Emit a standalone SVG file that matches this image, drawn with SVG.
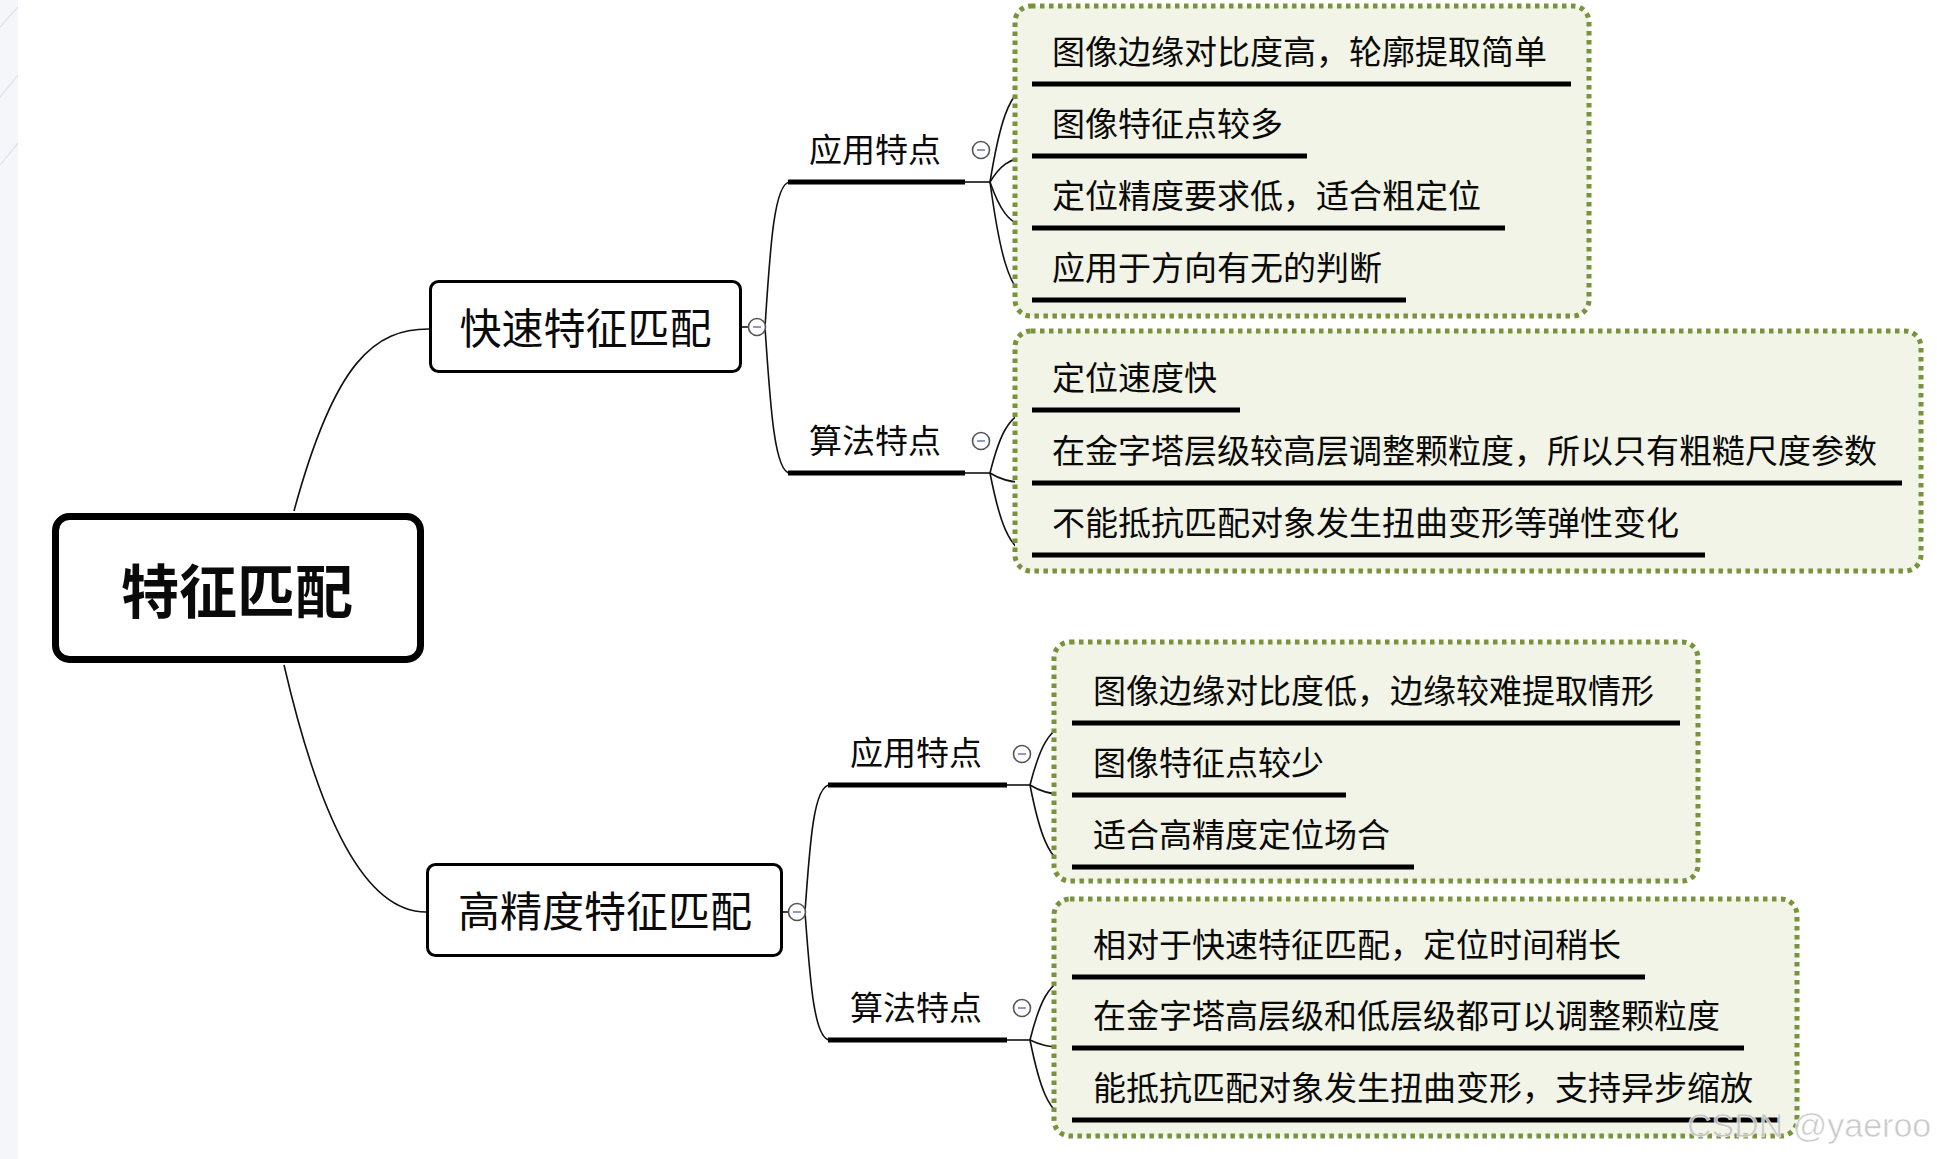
<svg xmlns="http://www.w3.org/2000/svg" width="1937" height="1159" viewBox="0 0 1937 1159">
<style>
.t{font-family:"Noto Sans CJK SC","Noto Sans",sans-serif;fill:#0a0a0a}
.c{font-size:33px}
.l1{font-size:42px}
.root{font-size:58px;font-weight:bold}
.ul{stroke:#000;stroke-width:5;fill:none}
.cn{stroke:#111;stroke-width:1.6;fill:none}
.grp{fill:#f2f4e7;stroke:#77933c;stroke-width:5;stroke-dasharray:4.5 4.5}
.box{fill:#fff;stroke:#000}
.col circle{fill:#fff;stroke:#555;stroke-width:1.6}
.col line{stroke:#6a78b0;stroke-width:1.5}
</style>
<rect x="0" y="0" width="1937" height="1159" fill="#fff"/>
<g id="edge-strip">
<rect x="0" y="0" width="18" height="1159" fill="#f5f6fa"/>
<path d="M0,27 L18,7 M0,97 L18,75 M0,165 L18,143" stroke="#e2e3ea" stroke-width="1.2" fill="none"/>
</g>

<g id="connectors">
<path class="cn" d="M294,511 C335,360 375,329 429,329"/>
<path class="cn" d="M284,665 C320,820 365,912 426,912"/>
<path class="cn" d="M742,327 L749,327"/>
<path class="cn" d="M783,912 L789,912"/>
<path class="cn" d="M765,327 C770,250 774,182 790,182"/>
<path class="cn" d="M765,327 C770,400 774,473 790,473"/>
<path class="cn" d="M805,912 C810,840 814,785 830,785"/>
<path class="cn" d="M805,912 C810,980 814,1040 830,1040"/>
<path class="cn" d="M963,182 L990,182"/>
<path class="cn" d="M963,473 L990,473"/>
<path class="cn" d="M1005,785 L1030,785"/>
<path class="cn" d="M1005,1040 L1030,1040"/>
<path class="cn" d="M990,182 C998,133 1008,84 1034,84"/>
<path class="cn" d="M990,182 C998,169 1008,156 1034,156"/>
<path class="cn" d="M990,182 C998,205 1008,228 1034,228"/>
<path class="cn" d="M990,182 C998,241 1008,300 1034,300"/>
<path class="cn" d="M990,473 C998,441 1008,410 1034,410"/>
<path class="cn" d="M990,473 C998,478 1008,483 1034,483"/>
<path class="cn" d="M990,473 C998,514 1008,555 1034,555"/>
<path class="cn" d="M1030,785 C1038,754 1048,723 1074,723"/>
<path class="cn" d="M1030,785 C1038,790 1048,795 1074,795"/>
<path class="cn" d="M1030,785 C1038,826 1048,867 1074,867"/>
<path class="cn" d="M1030,1040 C1038,1008 1048,977 1074,977"/>
<path class="cn" d="M1030,1040 C1038,1044 1048,1048 1074,1048"/>
<path class="cn" d="M1030,1040 C1038,1080 1048,1120 1074,1120"/>
</g>

<g id="root">
<rect class="box" x="55.5" y="516.5" width="365" height="143" rx="14" stroke-width="7"/>
<text class="t root" x="237" y="613" text-anchor="middle">特征匹配</text>
</g>

<g id="fast">
<rect class="box" x="430.5" y="281.5" width="310" height="90" rx="8" stroke-width="3"/>
<text class="t l1" x="585.5" y="344" text-anchor="middle">快速特征匹配</text>
<g class="col"><circle cx="757" cy="327" r="8.5"/><line x1="753" y1="327" x2="761" y2="327"/></g>
</g>

<g id="precise">
<rect class="box" x="427.5" y="864.5" width="354" height="91" rx="8" stroke-width="3"/>
<text class="t l1" x="605" y="927" text-anchor="middle">高精度特征匹配</text>
<g class="col"><circle cx="797" cy="912" r="8.5"/><line x1="793" y1="912" x2="801" y2="912"/></g>
</g>

<g id="fast-app">
<line class="ul" x1="788" y1="182" x2="965" y2="182"/>
<text class="t c" x="809" y="162">应用特点</text>
<g class="col"><circle cx="981" cy="150" r="8.5"/><line x1="977" y1="150" x2="985" y2="150"/></g>
</g>
<g id="fast-algo">
<line class="ul" x1="788" y1="473" x2="965" y2="473"/>
<text class="t c" x="809" y="453">算法特点</text>
<g class="col"><circle cx="981" cy="441" r="8.5"/><line x1="977" y1="441" x2="985" y2="441"/></g>
</g>
<g id="precise-app">
<line class="ul" x1="828" y1="785" x2="1007" y2="785"/>
<text class="t c" x="850" y="765">应用特点</text>
<g class="col"><circle cx="1022" cy="754" r="8.5"/><line x1="1018" y1="754" x2="1026" y2="754"/></g>
</g>
<g id="precise-algo">
<line class="ul" x1="828" y1="1040" x2="1007" y2="1040"/>
<text class="t c" x="850" y="1020">算法特点</text>
<g class="col"><circle cx="1022" cy="1008" r="8.5"/><line x1="1018" y1="1008" x2="1026" y2="1008"/></g>
</g>

<g id="fast-app-items">
<rect class="grp" x="1015" y="6" width="574" height="310" rx="16"/>
<g id="fa1"><line class="ul" x1="1032" y1="84" x2="1571" y2="84"/><text class="t c" x="1052" y="64">图像边缘对比度高，轮廓提取简单</text></g>
<g id="fa2"><line class="ul" x1="1032" y1="156" x2="1307" y2="156"/><text class="t c" x="1052" y="136">图像特征点较多</text></g>
<g id="fa3"><line class="ul" x1="1032" y1="228" x2="1505" y2="228"/><text class="t c" x="1052" y="208">定位精度要求低，适合粗定位</text></g>
<g id="fa4"><line class="ul" x1="1032" y1="300" x2="1406" y2="300"/><text class="t c" x="1052" y="280">应用于方向有无的判断</text></g>
</g>

<g id="fast-algo-items">
<rect class="grp" x="1015" y="331" width="906" height="240" rx="16"/>
<g id="fg1"><line class="ul" x1="1032" y1="410" x2="1240" y2="410"/><text class="t c" x="1052" y="390">定位速度快</text></g>
<g id="fg2"><line class="ul" x1="1032" y1="483" x2="1902" y2="483"/><text class="t c" x="1052" y="463">在金字塔层级较高层调整颗粒度，所以只有粗糙尺度参数</text></g>
<g id="fg3"><line class="ul" x1="1032" y1="555" x2="1705" y2="555"/><text class="t c" x="1052" y="535">不能抵抗匹配对象发生扭曲变形等弹性变化</text></g>
</g>

<g id="precise-app-items">
<rect class="grp" x="1054" y="642" width="644" height="239" rx="16"/>
<g id="pa1"><line class="ul" x1="1072" y1="723" x2="1680" y2="723"/><text class="t c" x="1093" y="703">图像边缘对比度低，边缘较难提取情形</text></g>
<g id="pa2"><line class="ul" x1="1072" y1="795" x2="1346" y2="795"/><text class="t c" x="1093" y="775">图像特征点较少</text></g>
<g id="pa3"><line class="ul" x1="1072" y1="867" x2="1414" y2="867"/><text class="t c" x="1093" y="847">适合高精度定位场合</text></g>
</g>

<g id="precise-algo-items">
<rect class="grp" x="1054" y="899" width="743" height="237" rx="16"/>
<g id="pg1"><line class="ul" x1="1072" y1="977" x2="1645" y2="977"/><text class="t c" x="1093" y="957">相对于快速特征匹配，定位时间稍长</text></g>
<g id="pg2"><line class="ul" x1="1072" y1="1048" x2="1744" y2="1048"/><text class="t c" x="1093" y="1028">在金字塔高层级和低层级都可以调整颗粒度</text></g>
<g id="pg3"><line class="ul" x1="1072" y1="1120" x2="1779" y2="1120"/><text class="t c" x="1093" y="1100">能抵抗匹配对象发生扭曲变形，支持异步缩放</text></g>
</g>

<text x="1687" y="1137" font-family="Liberation Sans, Arial, sans-serif" font-size="34" fill="#c4c4c4" stroke="#fff" stroke-width="0.6" opacity="0.9">CSDN @yaeroo</text>
</svg>
